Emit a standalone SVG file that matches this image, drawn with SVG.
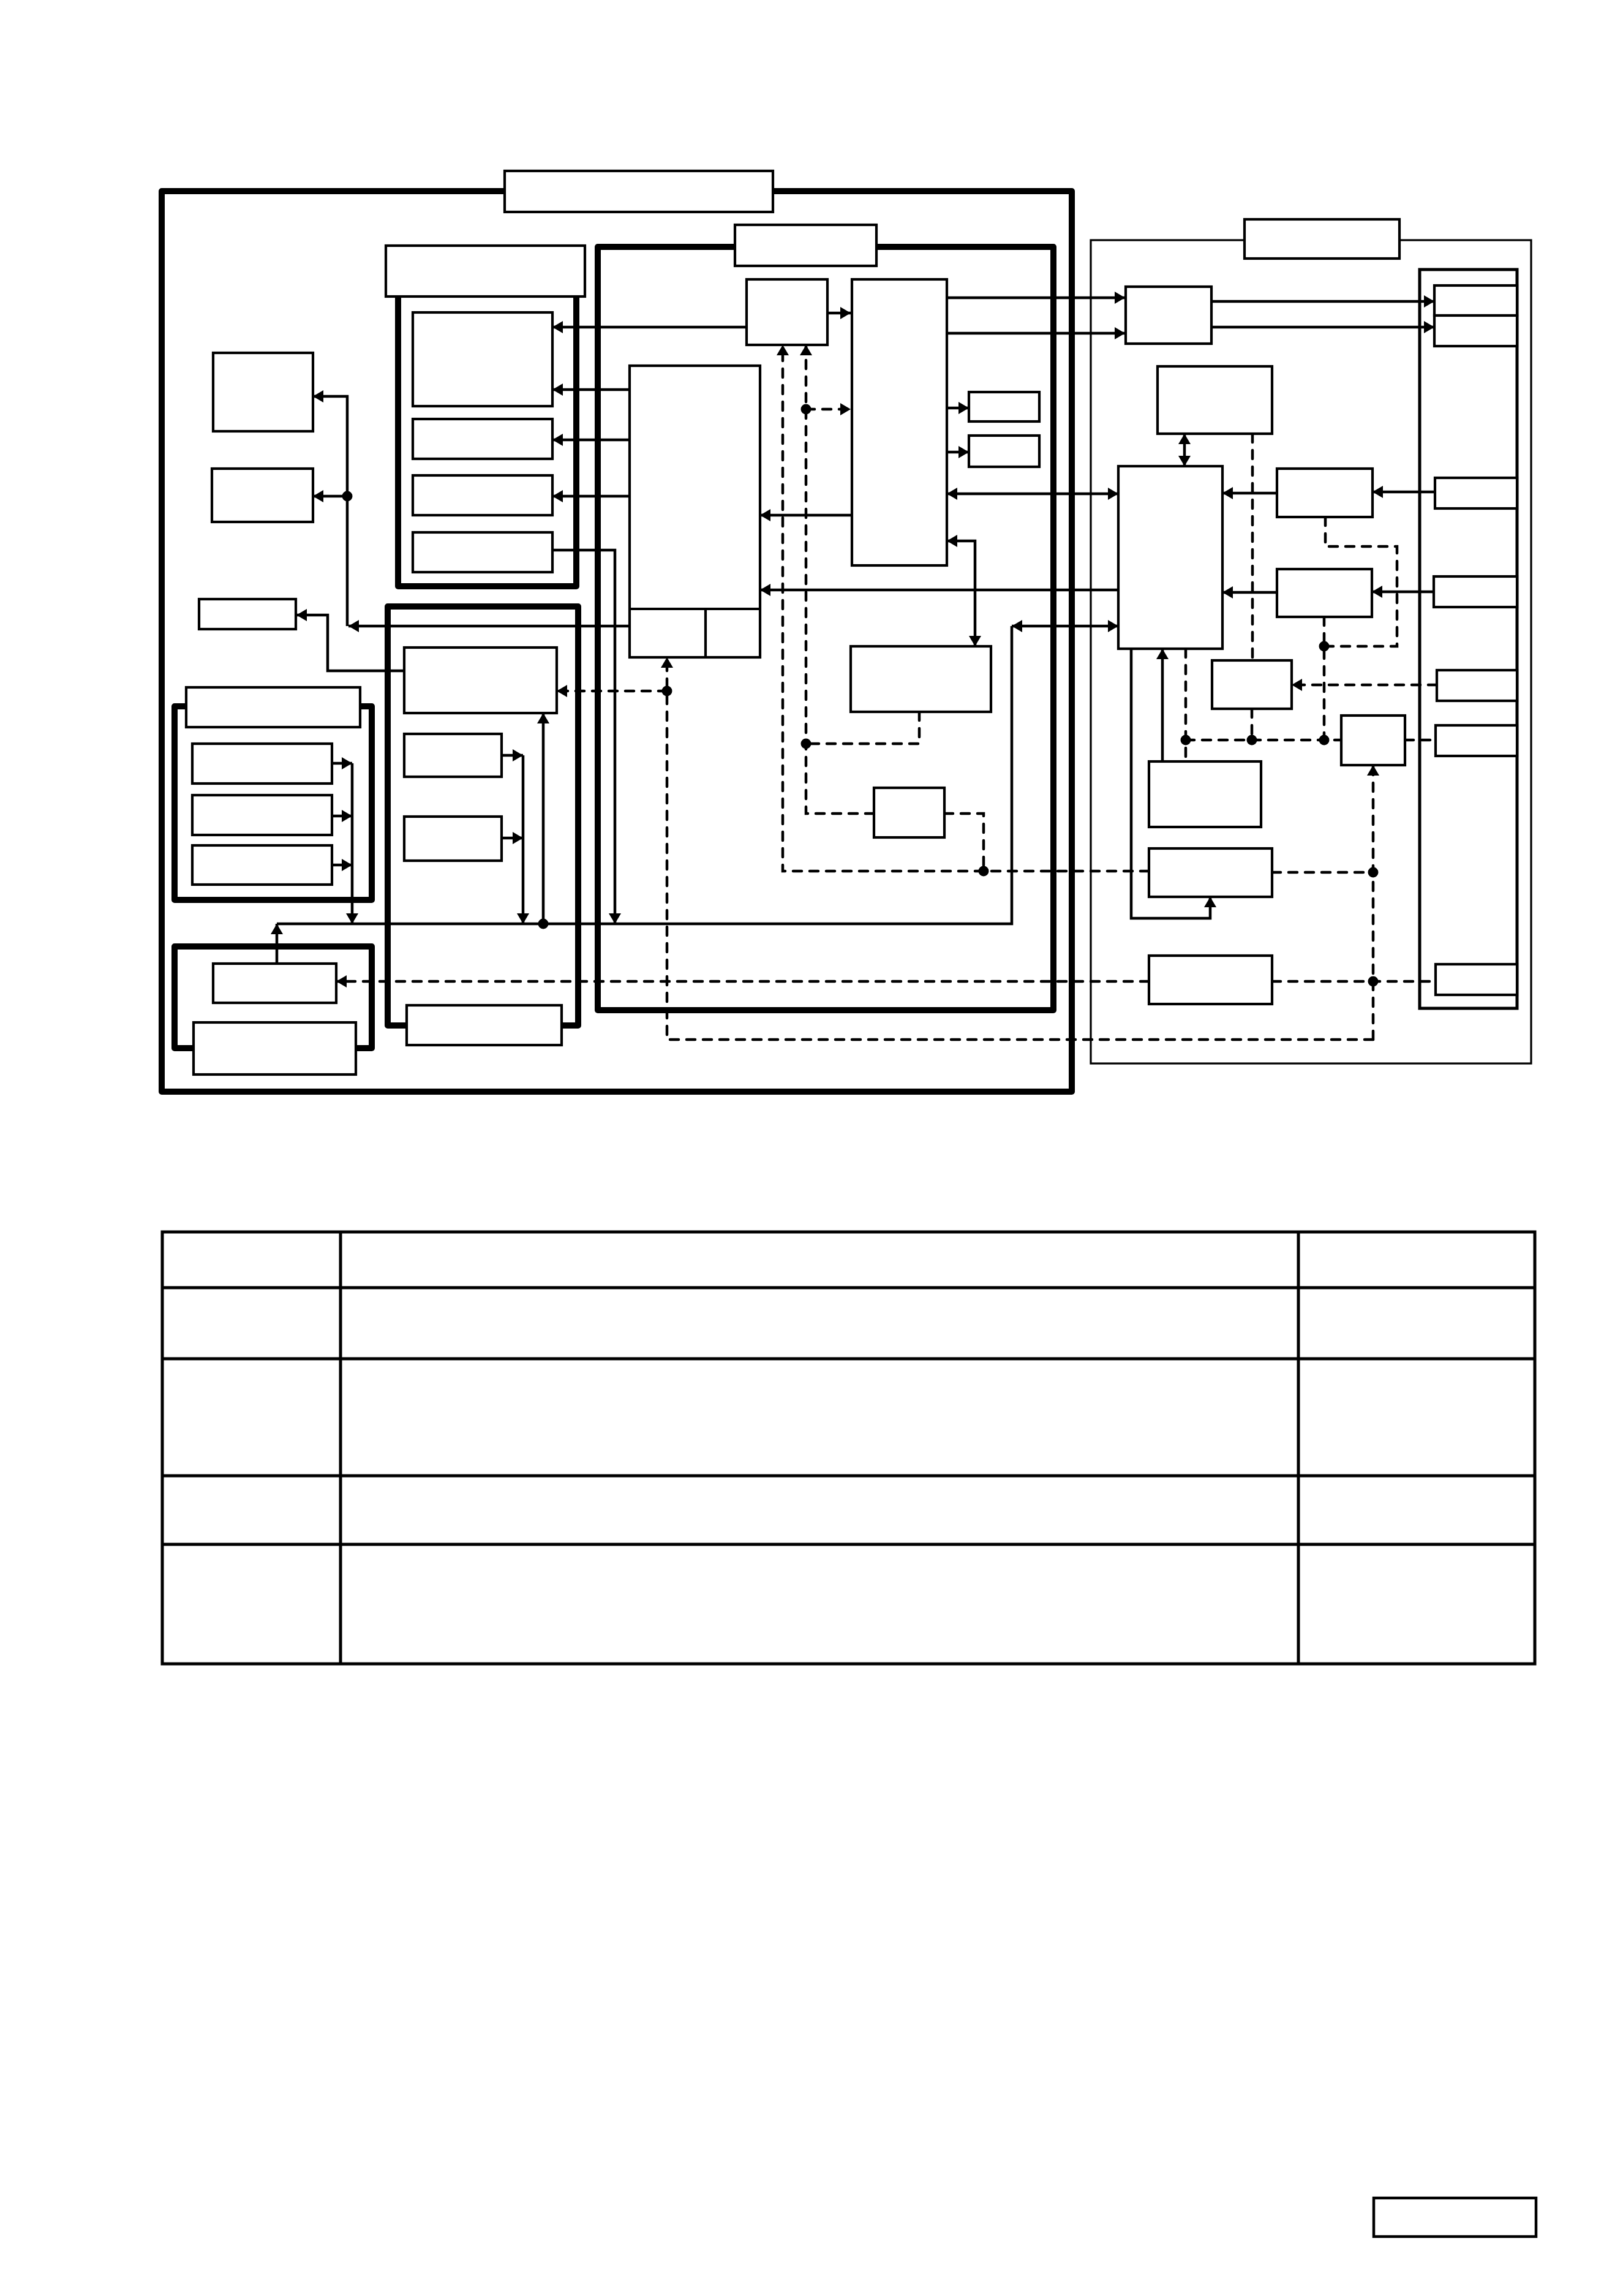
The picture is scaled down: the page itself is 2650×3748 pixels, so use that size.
<svg xmlns="http://www.w3.org/2000/svg" width="2650" height="3748" viewBox="0 0 2650 3748">
<style>
.bg{fill:#fff}
.ct{fill:none;stroke:#000;stroke-width:10;stroke-linejoin:round}
.thin{fill:none;stroke:#000;stroke-width:3.2}
.box{fill:#fff;stroke:#000;stroke-width:4.2}
.col{fill:none;stroke:#000;stroke-width:5}
.ln{fill:none;stroke:#000;stroke-width:4.5}
.ds{fill:none;stroke:#000;stroke-width:4.5;stroke-dasharray:14 13;stroke-linecap:round}
.a{marker-end:url(#ah)}
.b{marker-start:url(#ah);marker-end:url(#ah)}
.tb{fill:none;stroke:#000;stroke-width:5}
.dot{fill:#000}
</style>
<defs>
<marker id="ah" markerUnits="userSpaceOnUse" markerWidth="20" markerHeight="22" viewBox="0 0 20 22" refX="17" refY="11" orient="auto-start-reverse"><path d="M0,1 L17,11 L0,21 z" fill="#000"/></marker>
</defs>
<rect class="bg" x="0" y="0" width="2650" height="3748"/>

<g id="containers">
<rect id="outer" class="ct" x="264" y="312" width="1486" height="1470"/>
<rect id="mid" class="ct" x="976" y="403" width="744" height="1246"/>
<rect id="contA" class="ct" x="650" y="450" width="291" height="507"/>
<rect id="contB" class="ct" x="633" y="990" width="311" height="684"/>
<rect id="contD" class="ct" x="285" y="1153" width="322" height="316"/>
<rect id="contC" class="ct" x="285" y="1545" width="322" height="166"/>
<rect id="rightOuter" class="thin" x="1781" y="392" width="719" height="1344"/>
<rect id="rightCol" class="col" x="2318" y="440" width="159" height="1206"/>
</g>

<g id="connectors">
<!-- solid -->
<path class="ln a" d="M1028,636 H902"/>
<path class="ln a" d="M1028,718 H902"/>
<path class="ln a" d="M1028,810 H902"/>
<path class="ln a" d="M1218,534 H902"/>
<path class="ln a" d="M902,898 H1004 V1508"/>
<path class="ln a" d="M1028,1022 H569"/>
<path class="ln a" d="M567,1022 V647 H511"/>
<path class="ln a" d="M567,810 H511"/>
<path class="ln a" d="M660,1095 H535 V1004 H484"/>
<path class="ln a" d="M542,1246 H575"/>
<path class="ln a" d="M542,1332 H575"/>
<path class="ln a" d="M542,1412 H575"/>
<path class="ln a" d="M575,1246 V1508"/>
<path class="ln a" d="M452,1573 V1508"/>
<path class="ln" d="M452,1508 H1652 V1022"/>
<path class="ln b" d="M1652,1022 H1826"/>
<path class="ln a" d="M819,1233 H854"/>
<path class="ln a" d="M819,1368 H854"/>
<path class="ln a" d="M854,1233 V1508"/>
<path class="ln a" d="M887,1508 V1164"/>
<path class="ln a" d="M1351,511 H1389"/>
<path class="ln a" d="M1546,666 H1582"/>
<path class="ln a" d="M1546,738 H1582"/>
<path class="ln a" d="M1389,841 H1241"/>
<path class="ln b" d="M1546,806 H1826"/>
<path class="ln b" d="M1546,883 H1592 V1055"/>
<path class="ln a" d="M1826,963 H1241"/>
<path class="ln a" d="M1546,486 H1837"/>
<path class="ln a" d="M1546,544 H1837"/>
<path class="ln a" d="M1978,492 H2342"/>
<path class="ln a" d="M1978,534 H2342"/>
<path class="ln b" d="M1934,708 V761"/>
<path class="ln a" d="M2085,805 H1996"/>
<path class="ln a" d="M2343,803 H2241"/>
<path class="ln a" d="M2085,967 H1996"/>
<path class="ln a" d="M2341,966 H2240"/>
<path class="ln a" d="M1898,1243 V1059"/>
<path class="ln a" d="M1847,1059 V1499 H1976 V1464"/>
<!-- dashed -->
<path class="ds a" d="M1876,1422 H1278 V563"/>
<path class="ds a" d="M1427,1328 H1316 V563"/>
<path class="ds a" d="M1316,668 H1389"/>
<path class="ds" d="M1501,1162 V1214 H1316"/>
<path class="ds" d="M1542,1328 H1606 V1422"/>
<path class="ds" d="M2077,1424 H2242"/>
<path class="ds a" d="M1876,1602 H549"/>
<path class="ds" d="M2077,1602 H2344"/>
<path class="ds a" d="M2242,1697 V1249"/>
<path class="ds a" d="M2242,1697 H1089 V1073"/>
<path class="ds a" d="M1089,1128 H909"/>
<path class="ds" d="M2164,844 V892 H2281 V1055 H2162"/>
<path class="ds" d="M2162,1007 V1208"/>
<path class="ds" d="M2045,708 V1078"/>
<path class="ds" d="M2044,1157 V1208"/>
<path class="ds a" d="M2346,1118 H2109"/>
<path class="ds" d="M1936,1208 H2190"/>
<path class="ds" d="M1936,1059 V1243"/>
<path class="ds" d="M2294,1208 H2344"/>
<!-- junction dots -->
<circle class="dot" cx="567" cy="810" r="8.5"/>
<circle class="dot" cx="887" cy="1508" r="8.5"/>
<circle class="dot" cx="1316" cy="668" r="8.5"/>
<circle class="dot" cx="1316" cy="1214" r="8.5"/>
<circle class="dot" cx="1606" cy="1422" r="8.5"/>
<circle class="dot" cx="2242" cy="1424" r="8.5"/>
<circle class="dot" cx="2242" cy="1602" r="8.5"/>
<circle class="dot" cx="1089" cy="1128" r="8.5"/>
<circle class="dot" cx="2162" cy="1055" r="8.5"/>
<circle class="dot" cx="2162" cy="1208" r="8.5"/>
<circle class="dot" cx="2044" cy="1208" r="8.5"/>
<circle class="dot" cx="1936" cy="1208" r="8.5"/>
</g>

<g id="titles">
<rect id="t-outer" class="box" x="824" y="279" width="438" height="67"/>
<rect id="t-mid" class="box" x="1200" y="367" width="231" height="67"/>
<rect id="t-A" class="box" x="630" y="401" width="325" height="83"/>
<rect id="t-B" class="box" x="664" y="1641" width="253" height="65"/>
<rect id="t-D" class="box" x="304" y="1122" width="284" height="65"/>
<rect id="t-C" class="box" x="316" y="1669" width="265" height="85"/>
<rect id="t-right" class="box" x="2032" y="358" width="253" height="64"/>
</g>

<g id="n-L1"><rect class="box" x="348" y="576" width="163" height="128"/></g>
<g id="n-L2"><rect class="box" x="346" y="765" width="165" height="87"/></g>
<g id="n-L3"><rect class="box" x="325" y="978" width="158" height="49"/></g>
<g id="n-A1"><rect class="box" x="674" y="510" width="228" height="153"/></g>
<g id="n-A2"><rect class="box" x="674" y="684" width="228" height="65"/></g>
<g id="n-A3"><rect class="box" x="674" y="776" width="228" height="65"/></g>
<g id="n-A4"><rect class="box" x="674" y="869" width="228" height="65"/></g>
<g id="n-P1"><rect class="box" x="660" y="1057" width="249" height="107"/></g>
<g id="n-P2"><rect class="box" x="660" y="1198" width="159" height="70"/></g>
<g id="n-P3"><rect class="box" x="660" y="1333" width="159" height="72"/></g>
<g id="n-D1"><rect class="box" x="314" y="1214" width="228" height="65"/></g>
<g id="n-D2"><rect class="box" x="314" y="1298" width="228" height="65"/></g>
<g id="n-D3"><rect class="box" x="314" y="1380" width="228" height="64"/></g>
<g id="n-C1"><rect class="box" x="348" y="1573" width="201" height="64"/></g>
<g id="n-B">
<rect class="box" x="1028" y="597" width="213" height="476"/>
<path d="M1028,994 H1241 M1152,994 V1073" fill="none" stroke="#000" stroke-width="4.2"/>
</g>
<g id="n-S1"><rect class="box" x="1219" y="456" width="132" height="107"/></g>
<g id="n-S2"><rect class="box" x="1391" y="456" width="155" height="467"/></g>
<g id="n-T1"><rect class="box" x="1582" y="640" width="115" height="48"/></g>
<g id="n-T2"><rect class="box" x="1582" y="711" width="115" height="51"/></g>
<g id="n-E"><rect class="box" x="1389" y="1055" width="229" height="107"/></g>
<g id="n-F"><rect class="box" x="1427" y="1286" width="115" height="81"/></g>
<g id="n-R1"><rect class="box" x="1838" y="468" width="140" height="93"/></g>
<g id="n-M"><rect class="box" x="1890" y="598" width="187" height="110"/></g>
<g id="n-R"><rect class="box" x="1826" y="761" width="170" height="298"/></g>
<g id="n-N1"><rect class="box" x="2085" y="765" width="156" height="79"/></g>
<g id="n-N2"><rect class="box" x="2085" y="929" width="155" height="78"/></g>
<g id="n-J"><rect class="box" x="1979" y="1078" width="130" height="79"/></g>
<g id="n-K"><rect class="box" x="2190" y="1168" width="104" height="81"/></g>
<g id="n-Q"><rect class="box" x="1876" y="1243" width="183" height="107"/></g>
<g id="n-G"><rect class="box" x="1876" y="1385" width="201" height="79"/></g>
<g id="n-H"><rect class="box" x="1876" y="1560" width="201" height="79"/></g>
<g id="n-Z1"><rect class="box" x="2342" y="466" width="135" height="49"/></g>
<g id="n-Z2"><rect class="box" x="2342" y="515" width="135" height="50"/></g>
<g id="n-Z3"><rect class="box" x="2343" y="780" width="134" height="50"/></g>
<g id="n-Z4"><rect class="box" x="2341" y="941" width="136" height="50"/></g>
<g id="n-Z5"><rect class="box" x="2346" y="1094" width="131" height="50"/></g>
<g id="n-Z6"><rect class="box" x="2344" y="1184" width="133" height="50"/></g>
<g id="n-Z7"><rect class="box" x="2344" y="1574" width="133" height="50"/></g>

<g id="table">
<rect class="tb" x="265" y="2011" width="2241" height="705"/>
<path class="tb" d="M265,2102 H2506 M265,2218 H2506 M265,2409 H2506 M265,2521 H2506 M556,2011 V2716 M2120,2011 V2716"/>
</g>

<g id="pagebox"><rect x="2243" y="3588" width="265" height="63" fill="#fff" stroke="#000" stroke-width="4.5"/></g>
</svg>
